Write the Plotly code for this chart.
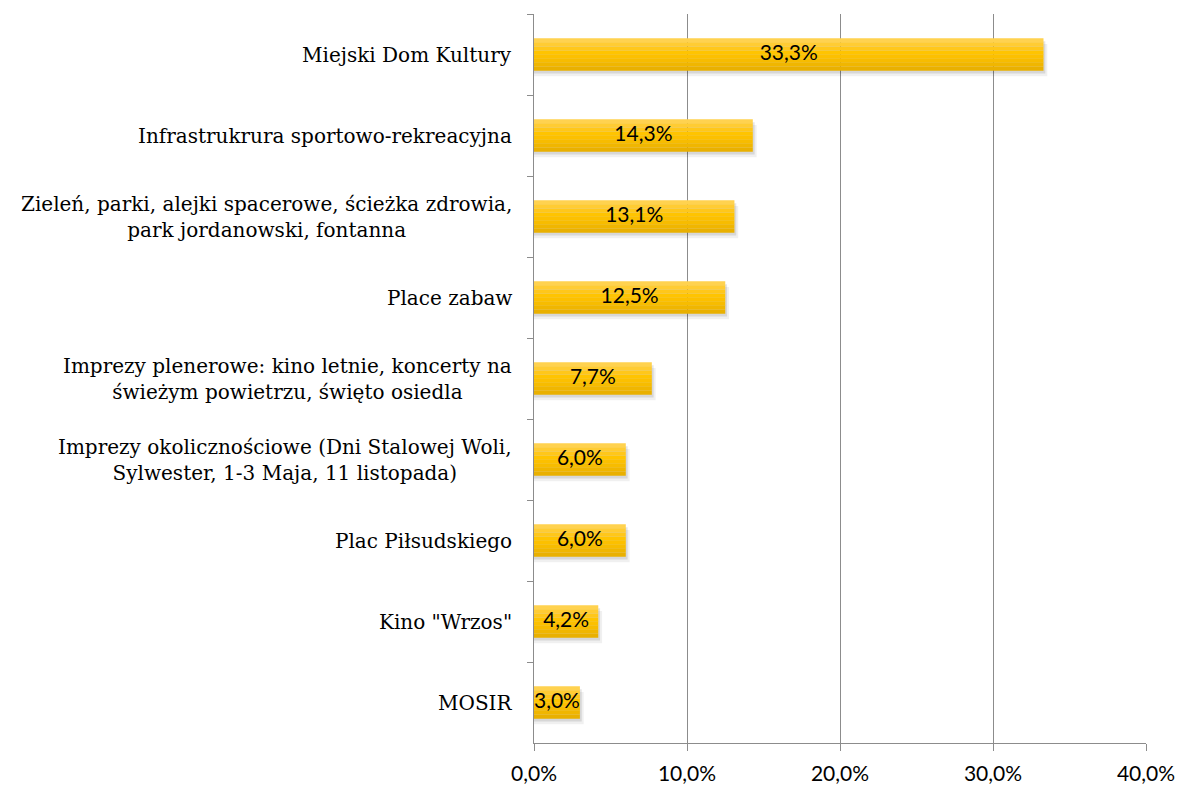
import plotly.graph_objects as go

# Dane
categories = [
    "Miejski Dom Kultury",
    "Infrastrukrura sportowo-rekreacyjna",
    "Zieleń, parki, alejki spacerowe, ścieżka zdrowia,<br>park jordanowski, fontanna",
    "Place zabaw",
    "Imprezy plenerowe: kino letnie, koncerty na<br>świeżym powietrzu, święto osiedla",
    "Imprezy okolicznościowe (Dni Stalowej Woli,<br>Sylwester, 1-3 Maja, 11 listopada)",
    "Plac Piłsudskiego",
    "Kino \"Wrzos\"",
    "MOSIR",
]
values = [33.3, 14.3, 13.1, 12.5, 7.7, 6.0, 6.0, 4.2, 3.0]
x_ticks = [0, 10, 20, 30, 40]
x_tick_labels = ["0,0%", "10,0%", "20,0%", "30,0%", "40,0%"]

pos = list(range(len(categories)))
bar_w = 0.4
grid = "#8c8c8c"

fig = go.Figure()

# cień pod słupkami (miękki, dwie warstwy)
for dx, dy, a in [(0.25, 0.07, 0.06), (0.12, 0.035, 0.10)]:
    fig.add_trace(go.Bar(
        y=pos, x=[v + dx for v in values], orientation="h",
        width=bar_w, offset=-bar_w / 2 + dy,
        marker=dict(color=f"rgba(0,0,0,{a})", line=dict(width=0)),
        hoverinfo="skip", showlegend=False,
    ))

# gradient słupka - kilka pasków
grad = ["#FFD24F", "#FFCC33", "#FFC71A", "#FFC400", "#FCC000", "#F7BC00", "#F0B600", "#E9B000"]
n = len(grad)
for i, c in enumerate(grad):
    fig.add_trace(go.Bar(
        y=pos, x=values, orientation="h",
        width=bar_w / n + 0.002, offset=-bar_w / 2 + i * bar_w / n,
        marker=dict(color=c, line=dict(width=0)),
        hoverinfo="skip", showlegend=False,
    ))

# etykiety wartości
fig.add_trace(go.Scatter(
    y=pos, x=[v / 2 for v in values], mode="text",
    text=[f"{v:.1f}%".replace(".", ",") for v in values],
    textfont=dict(family="Lato, Open Sans, sans-serif", size=21, color="black"),
    textposition="middle center",
    hoverinfo="skip", showlegend=False,
))

# etykiety kategorii
for p, c in zip(pos, categories):
    fig.add_annotation(
        x=0, xref="paper", y=p, yref="y", text=c, showarrow=False,
        xanchor="right", xshift=-20, align="center",
        font=dict(family="DejaVu Serif, serif", size=20, color="black"),
    )

fig.update_layout(
    barmode="overlay",
    width=1175, height=783,
    margin=dict(l=526, r=37, t=6, b=43),
    plot_bgcolor="white", paper_bgcolor="white",
    xaxis=dict(
        range=[0, 40], tickvals=x_ticks, ticktext=x_tick_labels,
        showgrid=True, gridcolor=grid, gridwidth=1,
        showline=True, linecolor=grid, linewidth=1,
        ticks="outside", ticklen=7, tickcolor=grid,
        ticklabelstandoff=5,
        tickfont=dict(family="Lato, Open Sans, sans-serif", size=21, color="black"),
        zeroline=False, fixedrange=True,
    ),
    yaxis=dict(
        range=[len(categories) - 0.5, -0.5],
        tickvals=[p - 0.5 for p in pos],
        showticklabels=False, showgrid=False,
        showline=True, linecolor=grid, linewidth=1,
        ticks="outside", ticklen=6, tickcolor=grid,
        zeroline=False, fixedrange=True,
    ),
)

fig.write_html("out.html")
